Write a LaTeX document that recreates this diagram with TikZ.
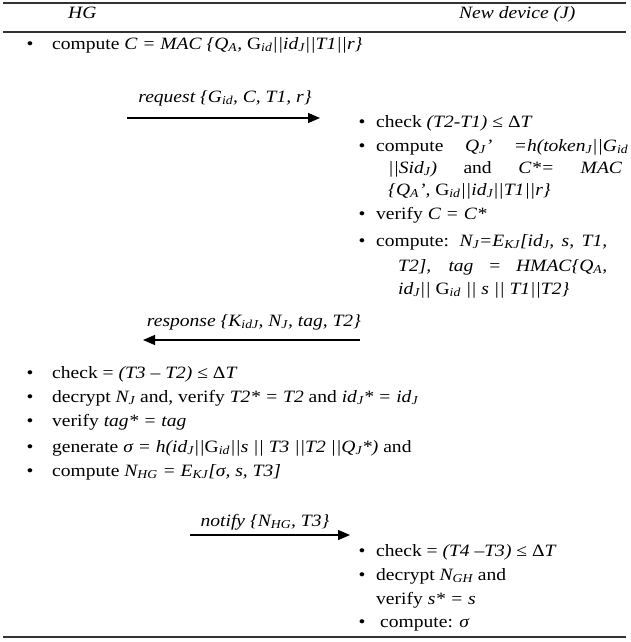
\documentclass[tikz,border=0pt]{standalone}
\usepackage{fontspec}
\setmainfont{Liberation Serif}[FakeStretch=1.13]
\usetikzlibrary{arrows.meta}
\newcommand{\sbx}[1]{\textsubscript{#1}}
\newcommand{\I}[1]{\textit{#1}}
\begin{document}
\begin{tikzpicture}[x=1pt,y=-1pt,
  txt/.style={anchor=base west,inner sep=0pt,font=\fontsize{17.3}{21}\selectfont},
  lbl/.style={anchor=base,inner sep=0pt,font=\fontsize{17.3}{21}\selectfont\itshape},
  bul/.style={anchor=base,inner sep=0pt,font=\fontsize{17.3}{21}\selectfont},
  rulel/.style={line width=1.4pt,draw=black!80},
  msg/.style={line width=1.3pt,-{Triangle[length=12pt,width=10pt]}}]
\useasboundingbox (0,0) rectangle (631,642);
% rules
\coordinate (r1a) at (3,3);   \coordinate (r1b) at (626,3);
\coordinate (r2a) at (3,32);  \coordinate (r2b) at (626,32);
\coordinate (r3a) at (3,637); \coordinate (r3b) at (626,637);
\draw[rulel] (r1a) -- (r1b);
\draw[rulel] (r2a) -- (r2b);
\draw[rulel] (r3a) -- (r3b);
% headers
\node[txt] (hg) at (68,19) {\I{HG}};
\node[txt] (nd) at (459,19) {\I{New device (J)}};
% HG step 1
\node[bul] (b0) at (30,49) {•};
\node[txt] (l0) at (52,49) {compute \I{C = MAC \{Q\sbx{A}, }G\sbx{\I{id}}\I{||id\sbx{J}||T1||r\}}};
% request
\coordinate (a1s) at (127,118); \coordinate (a1e) at (320,118);
\draw[msg] (a1s) -- (a1e);
\node[lbl] (req) at (225,102) {request \{G\sbx{id}, C, T1, r\}};
% device step
\node[bul] (rb1) at (362,127) {•};
\node[txt] (r1) at (376,127) {check \I{(T2-T1)} ≤ Δ\I{T}};
\node[bul] (rb2) at (362,151) {•};
\node[txt] (r2) at (376,151) {\makebox[252pt][s]{compute \I{Q\sbx{J}' =h(token\sbx{J}||G\sbx{id}}}};
\node[txt] (r3) at (388,173) {\makebox[234pt][s]{\I{||Sid\sbx{J})} and \I{C*=} \I{MAC}}};
\node[txt] (r4) at (388,195) {\I{\{Q\sbx{A}', }G\sbx{\I{id}}\I{||id\sbx{J}||T1||r\}}};
\node[bul] (rb5) at (362,219) {•};
\node[txt] (r5) at (376,219) {verify \I{C = C*}};
\node[bul] (rb6) at (362,246) {•};
\node[txt] (r6) at (376,246) {\makebox[231pt][s]{compute: \I{N\sbx{J}=E\sbx{KJ}[id\sbx{J}, s, T1,}}};
\node[txt] (r7) at (398,271) {\makebox[209pt][s]{\I{T2], tag = HMAC\{Q\sbx{A},}}};
\node[txt] (r8) at (398,294) {\I{id\sbx{J}|| }G\sbx{\I{id}}\I{ || s || T1||T2\}}};
% response
\coordinate (a2s) at (360,340); \coordinate (a2e) at (143,340);
\draw[msg] (a2s) -- (a2e);
\node[lbl] (resp) at (254,326) {response \{K\sbx{idJ}, N\sbx{J}, tag, T2\}};
% HG step 2
\node[bul] (lb1) at (30,378) {•};
\node[txt] (l1) at (52,378) {check = \I{(T3 – T2)} ≤ Δ\I{T}};
\node[bul] (lb2) at (30,402) {•};
\node[txt] (l2) at (52,402) {decrypt \I{N\sbx{J}} and, verify \I{T2* = T2} and \I{id\sbx{J}* = id\sbx{J}}};
\node[bul] (lb3) at (30,426) {•};
\node[txt] (l3) at (52,426) {verify \I{tag* = tag}};
\node[bul] (lb4) at (30,452) {•};
\node[txt] (l4) at (52,452) {generate \I{σ = h(id\sbx{J}||}G\sbx{\I{id}}\I{||s || T3 ||T2 ||Q\sbx{J}*)} and};
\node[bul] (lb5) at (30,476) {•};
\node[txt] (l5) at (52,476) {compute \I{N\sbx{HG} = E\sbx{KJ}[σ, s, T3]}};
% notify
\coordinate (a3s) at (190,535); \coordinate (a3e) at (350,535);
\draw[msg] (a3s) -- (a3e);
\node[lbl] (ntf) at (265,526) {notify \{N\sbx{HG}, T3\}};
% device final
\node[bul] (cb1) at (362,556) {•};
\node[txt] (c1) at (376,556) {check = \I{(T4 –T3)} ≤ Δ\I{T}};
\node[bul] (cb2) at (362,580) {•};
\node[txt] (c2) at (376,580) {decrypt \I{N\sbx{GH}} and};
\node[txt] (c3) at (376,604) {verify \I{s* = s}};
\node[bul] (cb4) at (362,627) {•};
\node[txt] (c4) at (380,627) {compute: \I{σ}};
\end{tikzpicture}
\end{document}
